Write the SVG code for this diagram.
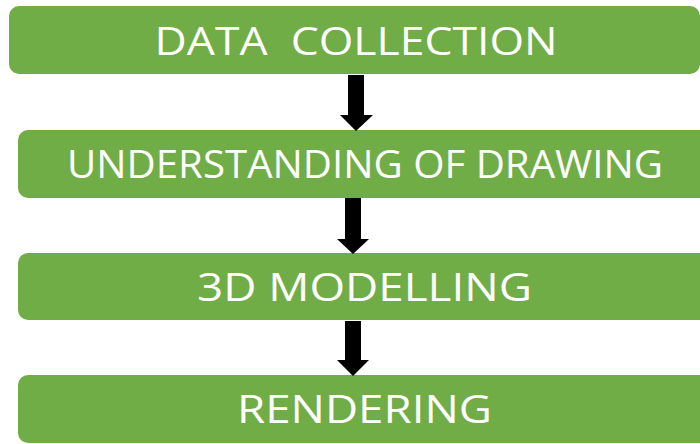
<svg xmlns="http://www.w3.org/2000/svg" width="700" height="444" viewBox="0 0 700 444">
  <style>
    .box { fill: #70AD47; }
    .label { fill: #FFFFFF; font-family: "Open Sans", "Liberation Sans", sans-serif; font-size: 39px; text-anchor: middle; }
    .arrow { fill: #000000; }
  </style>
  <rect x="0" y="0" width="700" height="444" fill="#FFFFFF"/>

  <g id="node-data-collection">
    <rect class="box" x="9" y="6" width="691" height="68" rx="10"/>
    <text class="label" x="356" y="55" textLength="403" lengthAdjust="spacingAndGlyphs" xml:space="preserve">DATA  COLLECTION</text>
  </g>

  <g id="node-understanding">
    <rect class="box" x="18" y="130" width="700" height="68" rx="10"/>
    <text class="label" x="365" y="178" textLength="596" lengthAdjust="spacingAndGlyphs">UNDERSTANDING OF DRAWING</text>
  </g>

  <g id="node-modelling">
    <rect class="box" x="18" y="253" width="700" height="67" rx="10"/>
    <text class="label" x="364.5" y="301" textLength="335" lengthAdjust="spacingAndGlyphs">3D MODELLING</text>
  </g>

  <g id="node-rendering">
    <rect class="box" x="18" y="375" width="700" height="68" rx="10"/>
    <text class="label" x="364.5" y="423" textLength="255" lengthAdjust="spacingAndGlyphs">RENDERING</text>
  </g>

  <g id="connectors">
    <polygon class="arrow" points="348,75 364,75 364,115 373,115 356,131 340,115 348,115"/>
    <polygon class="arrow" points="345,198 361,198 361,239 369,239 353,254 337,239 345,239"/>
    <polygon class="arrow" points="345,321 361,321 361,360 369,360 353,376 337,360 345,360"/>
  </g>
</svg>
